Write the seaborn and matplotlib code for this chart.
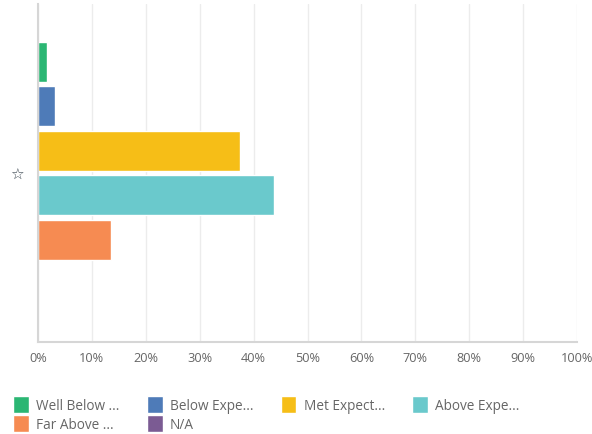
import pandas as pd
import matplotlib.pyplot as plt
import seaborn as sns

# dados
labels = ['Well Below ...', 'Below Expe...', 'Met Expect...', 'Above Expe...', 'Far Above ...', 'N/A']
values = [1.7, 3.1, 37.5, 43.8, 13.5, 0.0]
colors = ['#2bb673', '#4e7bb8', '#f6be17', '#6ac9cc', '#f68b52', '#7b5b93']
categoria = ['\u2606'] * len(labels)
xticks = list(range(0, 101, 10))

df = pd.DataFrame({'cat': categoria, 'resposta': labels, 'pct': values})

sns.set_style('white')
plt.rcParams['font.family'] = ['Open Sans', 'DejaVu Sans']

fig = plt.figure(figsize=(5.92, 4.35), dpi=100)
ax = fig.add_axes([0.064, 0.211, 0.911, 0.778])

sns.barplot(data=df, x='pct', y='cat', hue='resposta', hue_order=labels,
            palette=colors, width=0.79, gap=0.1, legend=True, ax=ax,
            saturation=1, errorbar=None)

ax.set_xlim(0, 100)
ax.set_xticks(xticks)
ax.set_xticklabels([f'{t}%' for t in xticks], color='#666666', fontsize=9.2)
ax.tick_params(axis='x', length=0, pad=6)
ax.tick_params(axis='y', length=0, pad=10, labelsize=11, labelcolor='#3a4650')
ax.set_xlabel('')
ax.set_ylabel('')
ax.grid(axis='x', color='#ececec', linewidth=1)
ax.set_axisbelow(True)
for s in ['top', 'right']:
    ax.spines[s].set_visible(False)
for s in ['left', 'bottom']:
    ax.spines[s].set_color('#d6d6d6')
    ax.spines[s].set_linewidth(1.5)

# legenda embaixo, 4 colunas
handles, names = ax.get_legend_handles_labels()
ax.get_legend().remove()
ordem = [0, 4, 1, 5, 2, 3]
leg = fig.legend([handles[i] for i in ordem], [names[i] for i in ordem],
                 loc='upper left', bbox_to_anchor=(0.013, 0.1), ncol=4,
                 frameon=False, fontsize=9.8, handlelength=1.15, handleheight=1.6,
                 handletextpad=0.55, columnspacing=2.0, labelspacing=0.08,
                 borderaxespad=0)
for t in leg.get_texts():
    t.set_color('#666666')

plt.savefig('out.png', dpi=100)
